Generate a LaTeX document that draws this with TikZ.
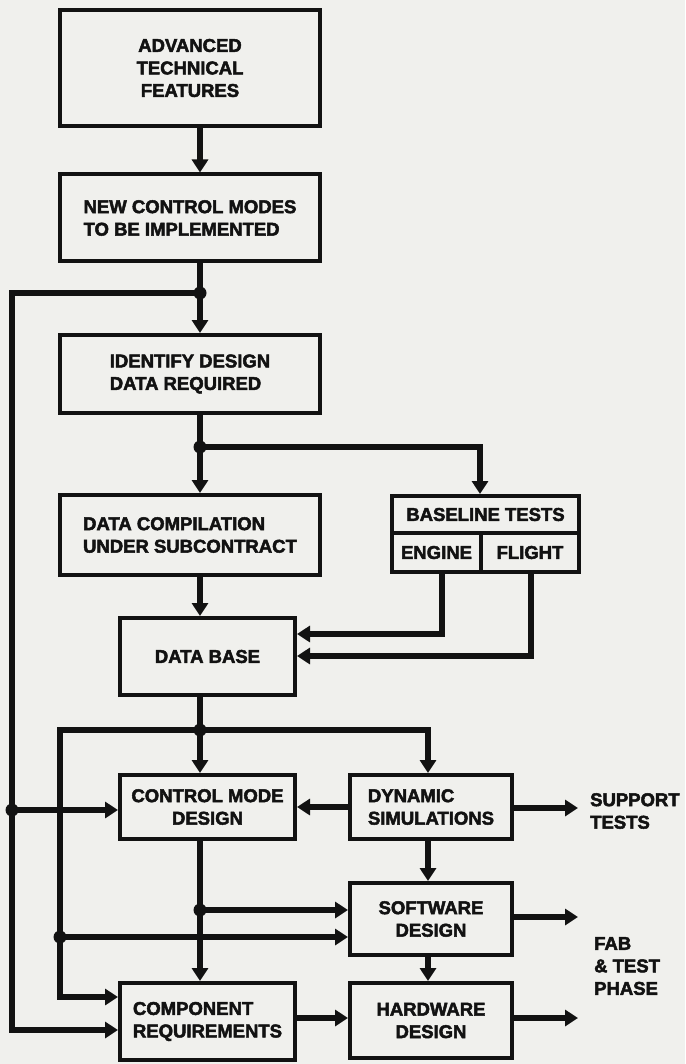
\documentclass[tikz,border=0pt]{standalone}
\usepackage{fontspec}
\newfontfamily\boxfont{Liberation Sans}[UprightFont=* Bold, FakeBold=2.6]
\usetikzlibrary{arrows.meta}
\definecolor{paper}{RGB}{240,240,237}
\definecolor{ink}{RGB}{18,18,18}
\tikzset{
  box/.style={draw=ink, line width=4pt, inner sep=0pt, text=ink,
    font=\boxfont\fontsize{18.5}{22.5}\selectfont},
  wire/.style={draw=ink, line width=5.5pt},
  flow/.style={wire, -{Triangle[length=13pt,width=16pt]}},
  lbl/.style={text=ink, anchor=west, align=left, inner sep=0pt,
    font=\boxfont\fontsize{18.5}{22.5}\selectfont}
}
\begin{document}
\begin{tikzpicture}[x=1pt,y=-1pt]
        \fill[paper] (0,0) rectangle (685,1064);
        \useasboundingbox (0,0) rectangle (685,1064);

        % boxes
        \node[box, minimum width=260pt, minimum height=116pt, align=center] (adv) at (190,68) {ADVANCED\\TECHNICAL\\FEATURES};
        \node[box, minimum width=260pt, minimum height=87pt, align=left] (ncm) at (190,218) {NEW CONTROL MODES\\TO BE IMPLEMENTED};
        \node[box, minimum width=260pt, minimum height=78pt, align=left] (idd) at (190,374) {IDENTIFY DESIGN\\DATA REQUIRED};
        \node[box, minimum width=260pt, minimum height=80pt, align=left] (dcs) at (190,535) {DATA COMPILATION\\UNDER SUBCONTRACT};
        \node[box, minimum width=187pt, minimum height=37pt] (bt) at (485.5,514.5) {BASELINE TESTS};
        \node[box, minimum width=89pt, minimum height=39pt] (eng) at (436.5,552.5) {ENGINE};
        \node[box, minimum width=98pt, minimum height=39pt] (flt) at (530,552.5) {FLIGHT};
        \node[box, minimum width=175pt, minimum height=77pt] (db) at (207.5,656.5) {DATA BASE};
        \node[box, minimum width=175pt, minimum height=64pt, align=center] (cmd) at (207.5,807) {CONTROL MODE\\DESIGN};
        \node[box, minimum width=162pt, minimum height=64pt, align=left] (dyn) at (431,807) {DYNAMIC\\SIMULATIONS};
        \node[box, minimum width=162pt, minimum height=72pt, align=center] (sw) at (431,919) {SOFTWARE\\DESIGN};
        \node[box, minimum width=162pt, minimum height=75pt, align=center] (hw) at (431,1020.5) {HARDWARE\\DESIGN};
        \node[box, minimum width=175pt, minimum height=77pt, align=left] (cr) at (207.5,1021.5) {COMPONENT\\REQUIREMENTS};

        \node[lbl] (spt) at (590,811) {SUPPORT\\TESTS};
        \node[lbl] (fab) at (594,966) {FAB\\\& TEST\\PHASE};

        % junctions and bends
        \coordinate (j1) at (200,293);
        \coordinate (j2) at (200,447);
        \coordinate (j3) at (200,730);
        \coordinate (j4) at (200,910);
        \coordinate (j5) at (60,937);
        \coordinate (jo) at (12,810);
        \coordinate (o1) at (12,293);
        \coordinate (o2) at (12,1030);
        \coordinate (k2) at (480,447);
        \coordinate (e1) at (442,634);
        \coordinate (f1) at (531,656);
        \coordinate (b1) at (60,730);
        \coordinate (b2) at (428,730);
        \coordinate (c1) at (60,997);
        \coordinate (s1) at (578,808);
        \coordinate (s2) at (578,917);
        \coordinate (s3) at (578,1018);

        \draw[flow] (adv.south -| j1) -- (ncm.north -| j1);
        \draw[wire] (ncm.south -| j1) -- (j1);
        \draw[flow] (j1) -- (idd.north -| j1);
        \draw[flow] (j1) -- (o1) -- (o2) -- (cr.west |- o2);
        \draw[flow] (jo) -- (cmd.west |- jo);

        \draw[wire] (idd.south -| j2) -- (j2);
        \draw[flow] (j2) -- (dcs.north -| j2);
        \draw[flow] (j2) -- (k2) -- (k2 |- bt.north);
        \draw[flow] (dcs.south -| j2) -- (db.north -| j2);
        \draw[flow] (eng.south -| e1) -- (e1) -- (db.east |- e1);
        \draw[flow] (flt.south -| f1) -- (f1) -- (db.east |- f1);

        \draw[wire] (db.south -| j3) -- (j3);
        \draw[flow] (j3) -- (cmd.north -| j3);
        \draw[flow] (j3) -- (b2) -- (b2 |- dyn.north);
        \draw[flow] (j3) -- (b1) -- (c1) -- (cr.west |- c1);
        \draw[flow] (dyn.west) -- (cmd.east);
        \draw[flow] (dyn.east |- s1) -- (s1);
        \draw[flow] (dyn.south -| b2) -- (sw.north -| b2);

        \draw[wire] (cmd.south -| j4) -- (j4);
        \draw[flow] (j4) -- (cr.north -| j4);
        \draw[flow] (j4) -- (sw.west |- j4);
        \draw[flow] (j5) -- (sw.west |- j5);
        \draw[flow] (sw.east |- s2) -- (s2);
        \draw[flow] (sw.south -| b2) -- (hw.north -| b2);
        \draw[flow] (cr.east |- s3) -- (hw.west |- s3);
        \draw[flow] (hw.east |- s3) -- (s3);

        \foreach \j in {j1,j2,j3,j4,j5,jo}
          \fill[ink] (\j) circle (6.5pt);
    \end{tikzpicture}
\end{document}
